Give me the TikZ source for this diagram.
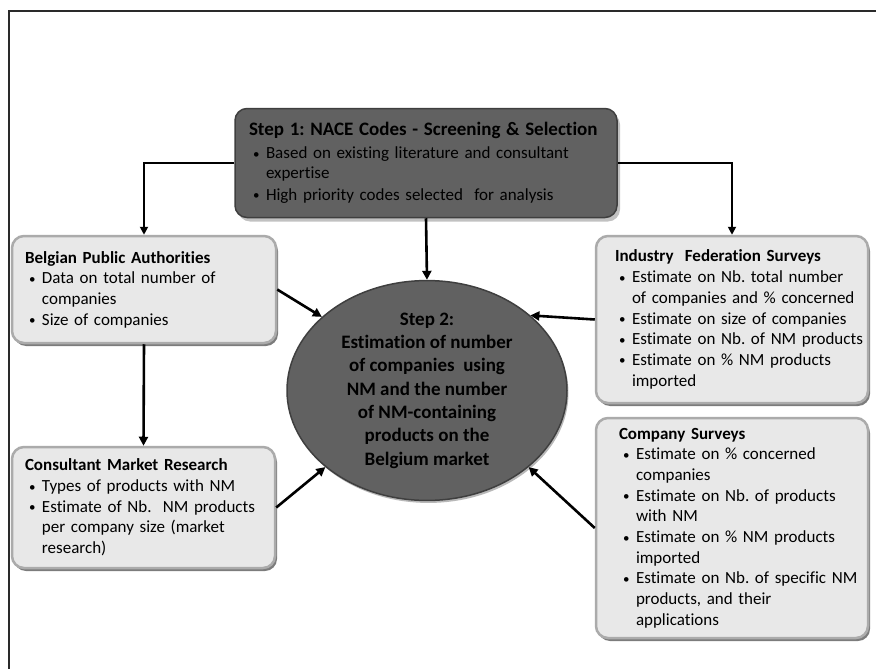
\documentclass[tikz,border=0pt]{standalone}
\usepackage{fontspec}
\setmainfont{Carlito}[Ligatures=NoCommon]
\usetikzlibrary{shapes.geometric,shadows,arrows.meta}
\frenchspacing
\definecolor{darkfill}{HTML}{616161}
\definecolor{darkline}{HTML}{3F3F3F}
\definecolor{lightfill}{HTML}{E8E8E8}
\definecolor{lightline}{HTML}{ABABAB}
\definecolor{shadowgray}{HTML}{6E6E6E}
\definecolor{framegray}{HTML}{2A2A2A}
\newcommand\smallbul{\raisebox{0.5pt}{\fontsize{13}{13}\selectfont\textbullet}}
\newcommand\bitem[1]{\mbox{\makebox[17pt][l]{\hspace{4pt}\smallbul}#1}}
\newcommand\bcont[1]{\mbox{\hspace*{17pt}#1}}
\newcommand\btitle[1]{\mbox{\bfseries #1}}
\tikzset{
  lightbox/.style={rectangle, rounded corners=12pt, fill=lightfill, draw=lightline,
    line width=2.5pt, inner ysep=0pt, align=left,
    font=\fontsize{17}{20.7}\selectfont,
    drop shadow={shadow xshift=2pt, shadow yshift=-3pt, fill=shadowgray, opacity=0.9}},
  darkbox/.style={rectangle, rounded corners=12pt, fill=darkfill, draw=darkline,
    line width=1.5pt, inner ysep=0pt, align=left,
    font=\fontsize{17}{20}\selectfont,
    drop shadow={shadow xshift=3pt, shadow yshift=-4pt, fill=gray!60, opacity=0.8}},
  darkell/.style={ellipse, fill=darkfill, draw=darkline, line width=1.5pt, inner sep=0pt,
    align=center, font=\fontsize{19}{23.3}\selectfont\bfseries,
    drop shadow={shadow xshift=1.5pt, shadow yshift=-2.5pt, fill=gray!70, opacity=0.8}},
  arr/.style={line width=2.6pt, -{Triangle[length=9pt,width=9pt]}},
  conn/.style={line width=1.8pt, -{Triangle[length=8pt,width=8pt]}}
}
\begin{document}
\begin{tikzpicture}[x=1pt,y=-1pt]
\useasboundingbox (0,0) rectangle (876,669);
\draw[line width=2pt, framegray] (9,669) -- (9,11) -- (876,11);

\node[darkbox, inner xsep=14pt, text width=354pt, minimum height=109pt] (s1) at (426,163)
 {\mbox{\fontsize{19}{23}\selectfont\bfseries Step 1: NACE Codes - Screening \& Selection}\\[3pt]
  \bitem{Based on existing literature and consultant}\\
  \bcont{expertise}\\[1.5pt]
  \bitem{High priority codes selected\ \ for analysis}};

\node[lightbox, inner xsep=13pt, text width=238pt, minimum height=107pt] (bpa) at (144,289.5)
 {\btitle{Belgian Public Authorities}\\
  \bitem{Data on total number of}\\
  \bcont{companies}\\
  \bitem{Size of companies}};

\node[lightbox, inner xsep=19pt, text width=234pt, minimum height=167pt] (ind) at (732,319.5)
 {\btitle{Industry\ \ Federation Surveys}\\
  \bitem{Estimate on Nb. total number}\\
  \bcont{of companies and \% concerned}\\
  \bitem{Estimate on size of companies}\\
  \bitem{Estimate on Nb. of NM products}\\
  \bitem{Estimate on \% NM products}\\
  \bcont{imported}};

\node[lightbox, inner xsep=13pt, text width=237pt, minimum height=121pt] (cmr) at (143.5,507.5)
 {\btitle{Consultant Market Research}\\
  \bitem{Types of products with NM}\\
  \bitem{Estimate of Nb.\ \ NM products}\\
  \bcont{per company size (market}\\
  \bcont{research)}};

\node[lightbox, inner xsep=23pt, text width=226pt, minimum height=220pt] (com) at (732,528)
 {\btitle{Company Surveys}\\
  \bitem{Estimate on \% concerned}\\
  \bcont{companies}\\
  \bitem{Estimate on Nb. of products}\\
  \bcont{with NM}\\
  \bitem{Estimate on \% NM products}\\
  \bcont{imported}\\
  \bitem{Estimate on Nb. of specific NM}\\
  \bcont{products, and their}\\
  \bcont{applications}};

\node[darkell, minimum width=280pt, minimum height=205pt] (ell) at (427,390.5)
 {Step 2:\\Estimation of number\\of companies\ \ using\\NM and the number\\of NM-containing\\products on the\\Belgium market};

\draw[conn] (s1.west) -| (bpa.north);
\draw[conn] (s1.east) -| (ind.north);
\draw[arr] (s1.south) -- (ell.north);
\draw[arr] (bpa.south) -- (cmr.north);
\draw[arr] (bpa.east) -- (ell.145);
\draw[arr] (ind.west) -- (ell.36);
\draw[arr] (cmr.east) -- (ell.217);
\draw[arr] (com.west) -- (ell.323);
\end{tikzpicture}
\end{document}
